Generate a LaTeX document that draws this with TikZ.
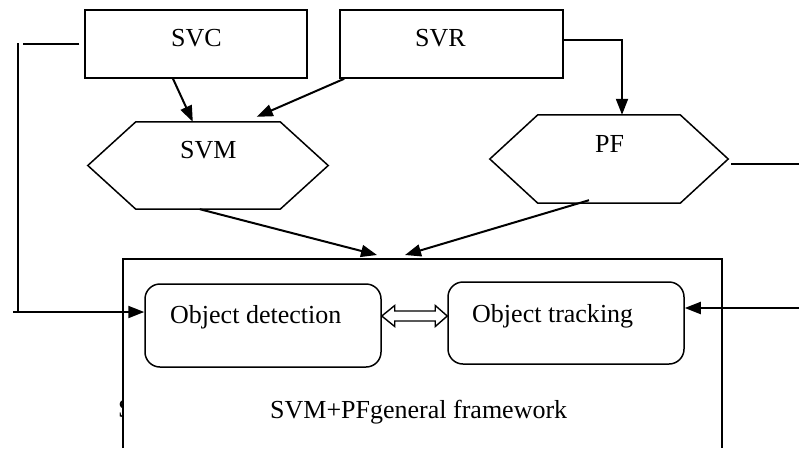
\documentclass[tikz,border=0pt]{standalone}
\usepackage{fontspec}
\setmainfont{Liberation Serif}
\usetikzlibrary{arrows.meta,calc}
\begin{document}
\begin{tikzpicture}[x=1pt,y=-1pt,
  txt/.style={inner sep=0pt,anchor=base west,font=\fontsize{26}{30}\selectfont},
  rectbox/.style={draw,line width=1.5pt,inner sep=0pt},
  roundbox/.style={draw,line width=1.5pt,rounded corners=15pt,inner sep=0pt},
  hexframe/.style={inner sep=0pt},
  conn/.style={line width=2pt},
  tip/.style={-{Triangle[length=16pt,width=12pt]}},
  framel/.style={line width=1.4pt}]
\useasboundingbox (0,0) rectangle (799,448);
% top boxes
\node[rectbox,minimum width=222pt,minimum height=68pt] (svc) at (196,44) {};
\node[txt] (svct) at (171,46) {SVC};
\node[rectbox,minimum width=223pt,minimum height=68pt] (svr) at (451.5,44) {};
\node[txt] (svrt) at (415,46) {SVR};
% hexagons
\node[hexframe,minimum width=240pt,minimum height=87pt] (svm) at (208,165.5) {};
\draw[line width=1.5pt] (svm.west) -- ([xshift=48pt]svm.north west) -- ([xshift=-48pt]svm.north east)
  -- (svm.east) -- ([xshift=-48pt]svm.south east) -- ([xshift=48pt]svm.south west) -- cycle;
\node[txt] (svmt) at (180,158) {SVM};
\node[hexframe,minimum width=238pt,minimum height=88pt] (pf) at (609,159) {};
\draw[line width=1.5pt] (pf.west) -- ([xshift=48pt]pf.north west) -- ([xshift=-48pt]pf.north east)
  -- (pf.east) -- ([xshift=-48pt]pf.south east) -- ([xshift=48pt]pf.south west) -- cycle;
\node[txt] (pft) at (595,152) {PF};
% frame
\coordinate (fbl) at (123,448);
\coordinate (ftl) at (123,259);
\coordinate (ftr) at (722,259);
\coordinate (fbr) at (722,448);
\draw[framel] (fbl) -- (ftl) -- (ftr) -- (fbr);
% inner boxes
\node[roundbox,minimum width=236pt,minimum height=83pt] (od) at (263,325.5) {};
\node[txt] (odt) at (170,323) {Object detection};
\node[roundbox,minimum width=236pt,minimum height=82pt] (ot) at (566,323) {};
\node[txt] (ott) at (472,322) {Object tracking};
\node[txt] (fwt) at (270,418) {SVM+PFgeneral framework};
\begin{scope}
\clip (100,380) rectangle (122.4,440);
\node[txt] (st) at (118,417) {S};
\end{scope}
% connectors to SVM
\draw[conn,tip] ([xshift=-23pt]svc.south) -- ([xshift=105pt]svm.north west);
\draw[conn,tip] ([xshift=5pt]svr.south west) -- ([xshift=169pt,yshift=5pt]svm.north west);
% SVR to PF
\coordinate (sr) at (622,40);
\draw[conn,tip] ([yshift=4pt]svr.east) -- (sr) -- (sr |- pf.north);
% PF right line
\coordinate (pr) at (799,164);
\draw[conn] ([xshift=3pt]pr -| pf.east) -- (pr);
% into frame
\coordinate (f1) at (377,255);
\coordinate (f2) at (405,255);
\draw[conn,tip] ([xshift=112pt]svm.south west) -- (f1);
\draw[conn,tip] ([xshift=-20pt,yshift=3pt]pf.south) -- (f2);
% left feedback
\coordinate (la) at (23,44);
\coordinate (lb) at (18,43);
\coordinate (lc) at (18,313);
\coordinate (ld) at (13,312);
\draw[conn] ([xshift=-5pt]svc.west) -- (la);
\draw[conn] (lb) -- (lc);
\draw[conn,tip] (ld) -- (ld -| od.west);
% right input
\coordinate (rr) at (799,308);
\draw[conn,tip] (rr) -- (rr -| ot.east);
% double hollow arrow
\coordinate (dm) at (415,316);
\coordinate (dl) at (dm -| od.east);
\coordinate (dr) at (dm -| ot.west);
\draw[line width=1.4pt,fill=white,line join=miter] (dl) -- ($(dl)+(13,-10.5)$) -- ($(dl)+(13,-5)$) -- ($(dr)+(-12,-5)$)
  -- ($(dr)+(-12,-10.5)$) -- (dr) -- ($(dr)+(-12,10.5)$) -- ($(dr)+(-12,5)$) -- ($(dl)+(13,5)$)
  -- ($(dl)+(13,10.5)$) -- cycle;
\end{tikzpicture}
\end{document}
